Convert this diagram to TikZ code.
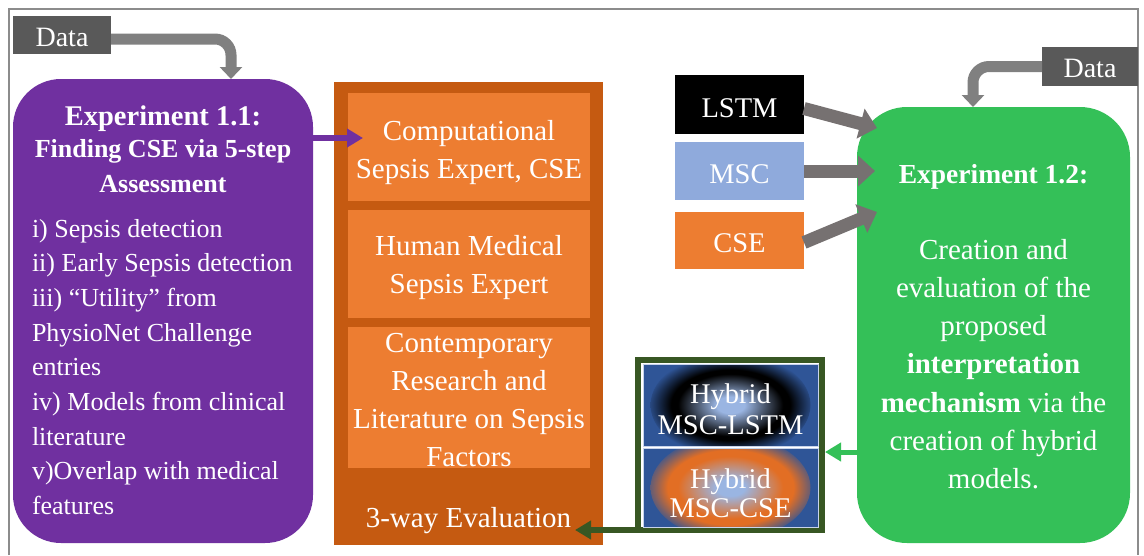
\documentclass[tikz,border=0pt]{standalone}
\usepackage{fontspec}
\setmainfont{Liberation Serif}
\usetikzlibrary{arrows.meta}

\definecolor{framegray}{RGB}{140,140,140}
\definecolor{datafill}{HTML}{595959}
\definecolor{feedgray}{HTML}{808080}
\definecolor{inputgray}{HTML}{767171}
\definecolor{exppurple}{HTML}{7030A0}
\definecolor{panelorange}{HTML}{C55A11}
\definecolor{cellorange}{HTML}{ED7D31}
\definecolor{mscblue}{HTML}{8FAADC}
\definecolor{expgreen}{RGB}{52,192,88}
\definecolor{hybframe}{HTML}{385723}
\definecolor{hblue}{HTML}{2F5597}
\definecolor{hlight}{HTML}{9AB5E2}
\definecolor{hring}{RGB}{226,110,36}
\definecolor{hedge}{RGB}{200,212,236}

% glow fills of the two hybrid cells
\pgfdeclareradialshading{glowdark}{\pgfpointorigin}{color(0bp)=(hlight); color(4bp)=(hlight); color(15bp)=(black); color(17bp)=(black); color(24bp)=(hblue); color(50bp)=(hblue)}
\pgfdeclareradialshading{glowwarm}{\pgfpointorigin}{color(0bp)=(hlight); color(4bp)=(hlight); color(15bp)=(hring); color(18bp)=(hring); color(25bp)=(hblue); color(50bp)=(hblue)}

% stacked lines whose baseline is the first line
\newcommand\linesc[1]{\begin{tabular}[t]{@{}c@{}}#1\end{tabular}}
\newcommand\linesl[1]{\begin{tabular}[t]{@{}l@{}}#1\end{tabular}}

\begin{document}
\begin{tikzpicture}[x=1pt,y=-1pt,
  box/.style={rectangle, inner sep=0pt, outer sep=0pt},
  txt/.style={text=white, inner sep=0pt, outer sep=0pt, anchor=base},
  feed/.style={draw=feedgray, line width=11pt, rounded corners=16pt, -{Triangle[width=22pt,length=12pt]}},
  input/.style={draw=inputgray, line width=13pt, -{Triangle[width=30pt,length=17pt]}},
  link/.style={line width=6pt, -{Triangle[width=18pt,length=16pt]}},
  hybcell/.style={box, fill=hblue, draw=hedge, line width=0.8pt, minimum width=175pt},
]
\useasboundingbox (0,0) rectangle (1144,555);
\fill[white] (0,0) rectangle (1144,555);

% outer frame
\draw[framegray, line width=1.5pt] (9,555) -- (9,9) -- (1138,9) -- (1138,555);

% data sources
\node[box, fill=datafill, minimum width=98pt, minimum height=38pt] (dataL) at (62,35) {};
\node[box, fill=datafill, minimum width=96pt, minimum height=39pt] (dataR) at (1090,66.5) {};

% experiment 1.1
\node[box, fill=exppurple, rounded corners=48pt, minimum width=300pt, minimum height=464pt] (expA) at (163,311) {};

% three-way evaluation panel
\node[box, fill=panelorange, minimum width=269pt, minimum height=463pt] (panel) at (468.5,313.5) {};
\node[box, fill=cellorange, minimum width=242pt, minimum height=108pt] (cseBox) at (469,147) {};
\node[box, fill=cellorange, minimum width=242pt, minimum height=108pt] (humanBox) at (469,264) {};
\node[box, fill=cellorange, minimum width=242pt, minimum height=141pt] (litBox) at (469,397.5) {};

% model inputs
\node[box, fill=black, minimum width=129pt, minimum height=59pt] (lstm) at (739.5,104.5) {};
\node[box, fill=mscblue, minimum width=129pt, minimum height=58pt] (msc) at (739.5,171) {};
\node[box, fill=cellorange, minimum width=129pt, minimum height=57pt] (cse) at (739.5,240.5) {};

% experiment 1.2
\node[box, fill=expgreen, rounded corners=50pt, minimum width=273pt, minimum height=436pt] (expB) at (993.5,325) {};

% hybrid models
\node[box, draw=hybframe, line width=6pt, outer sep=3pt, minimum width=184pt, minimum height=170pt] (hyb) at (730,445) {};
\node[hybcell, minimum height=82pt, path picture={\shade[shading=glowdark] (path picture bounding box.center) ellipse [x radius=80pt, y radius=52pt];}] (hybA) at (730.5,405) {};
\node[hybcell, minimum height=79pt, path picture={\shade[shading=glowwarm] (path picture bounding box.center) ellipse [x radius=80pt, y radius=52pt];}] (hybB) at (730.5,487.5) {};

% texts
\node[txt, font=\fontsize{28}{34}\selectfont] (dataLt) at (62,46) {Data};
\node[txt, font=\fontsize{28}{34}\selectfont] (dataRt) at (1090,77) {Data};

\node[txt, font=\bfseries\fontsize{28.5}{34}\selectfont] (expAt) at (163,125) {Experiment 1.1:};
\node[txt, font=\bfseries\fontsize{26}{35}\selectfont] (expAs) at (163,157) {\linesc{Finding CSE via 5-step\\Assessment}};
\node[txt, anchor=base west, font=\fontsize{26}{34.7}\selectfont] (expAl) at (32,237) {\linesl{i) Sepsis detection\\ii) Early Sepsis detection\\iii) “Utility” from\\PhysioNet Challenge\\entries\\iv) Models from clinical\\literature\\v)Overlap with medical\\features}};

\node[txt, font=\fontsize{29}{38}\selectfont] (cseT) at (469,140) {\linesc{Computational\\Sepsis Expert, CSE}};
\node[txt, font=\fontsize{29}{38}\selectfont] (humanT) at (469,255) {\linesc{Human Medical\\Sepsis Expert}};
\node[txt, font=\fontsize{29}{38}\selectfont] (litT) at (469,352) {\linesc{Contemporary\\Research and\\Literature on Sepsis\\Factors}};
\node[txt, font=\fontsize{29}{38}\selectfont] (evalT) at (468.5,527) {3-way Evaluation};

\node[txt, font=\fontsize{28.5}{34}\selectfont] (lstmT) at (739.5,117) {LSTM};
\node[txt, font=\fontsize{28.5}{34}\selectfont] (mscT) at (739.5,183) {MSC};
\node[txt, font=\fontsize{28.5}{34}\selectfont] (cseT2) at (739.5,252) {CSE};

\node[txt, font=\fontsize{28.5}{31}\selectfont] (hybAt) at (730.5,403) {\linesc{Hybrid\\MSC-LSTM}};
\node[txt, font=\fontsize{28.5}{29.5}\selectfont] (hybBt) at (730.5,488) {\linesc{Hybrid\\MSC-CSE}};

\node[txt, font=\bfseries\fontsize{27.5}{34}\selectfont] (expBt) at (993.5,183) {Experiment 1.2:};
\node[txt, font=\fontsize{29}{38.3}\selectfont] (expBb) at (993.5,259) {\linesc{Creation and\\evaluation of the\\proposed\\\textbf{interpretation}\\\textbf{mechanism} via the\\creation of hybrid\\models.}};

% connectors
\coordinate (cseTip) at (363,138);
\coordinate (inL) at (877,128);
\coordinate (inM) at (875,171);
\coordinate (inC) at (877,212);
\coordinate (hybTip) at (hyb.east |- 0,452);
\coordinate (evalTip) at (575,530);

\draw[feed] ([yshift=-4pt]dataL.east) -| ([xshift=68pt]expA.north);
\draw[feed] (dataR.west) -| ([xshift=-20.5pt]expB.north);
\draw[input] ([yshift=-4pt]lstm.east) -- (inL);
\draw[input] (msc.east) -- (inM);
\draw[input] ([yshift=-2pt]cse.east) -- (inC);
\draw[link, draw=exppurple] (expA.east |- cseTip) -- (cseTip);
\draw[link, draw=expgreen, line width=5pt] (expB.west |- hybTip) -- (hybTip);
\draw[link, draw=hybframe] ([xshift=3pt,yshift=3pt]hyb.south west) -- (evalTip);
\end{tikzpicture}
\end{document}
